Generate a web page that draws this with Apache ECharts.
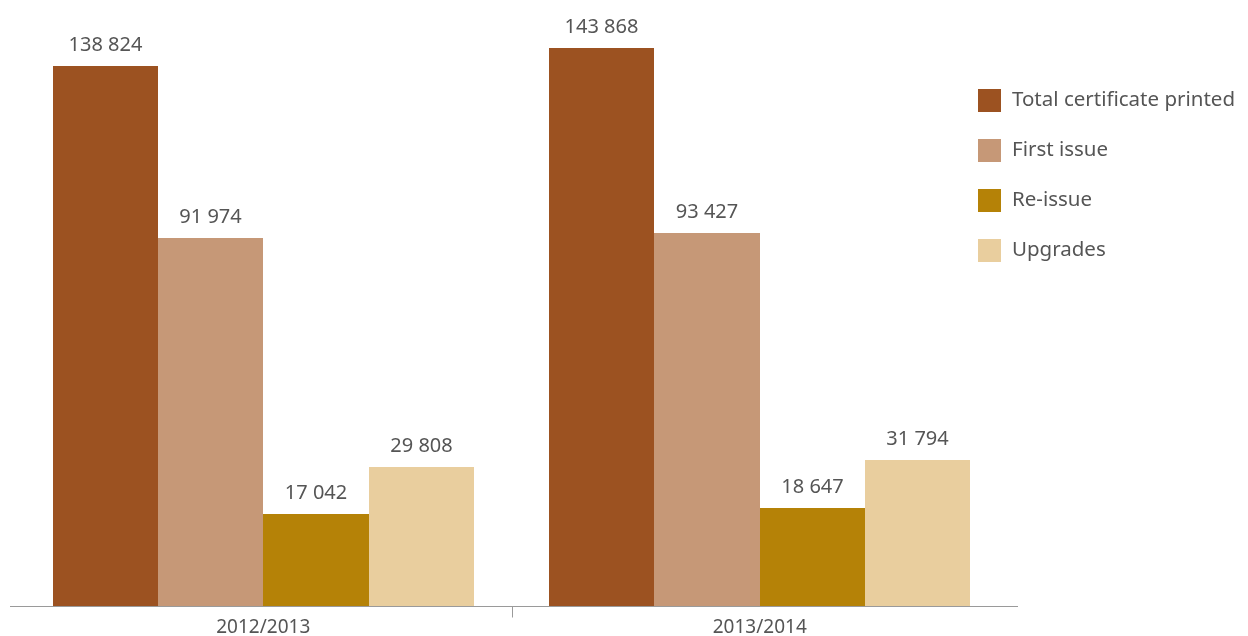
<!DOCTYPE html>
<html>
<head>
<meta charset="utf-8">
<script src="https://cdn.jsdelivr.net/npm/echarts@6/dist/echarts.min.js"></script>
<style>
  html, body { margin: 0; padding: 0; background: #fff; }
  #chart { width: 1248px; height: 636px; }
</style>
</head>
<body>
<div id="chart"></div>
<script>
// Certificates printed per financial year
const years = ['2012/2013', '2013/2014'];
const seriesNames = ['Total certificate printed', 'First issue', 'Re-issue', 'Upgrades'];
const totalPrinted = [138824, 143868];
const firstIssue = [91974, 93427];
const reIssue = [17042, 18647];
const upgrades = [29808, 31794];
const colors = ['#9C5221', '#C69877', '#B58207', '#E9CE9E'];

const FONT = '"Noto Sans", sans-serif';
const TEXT = '#555555';
const AXIS = '#9a9a9a';
// the value axis starts below zero; columns rise from the axis floor
const AXIS_MIN = -8000;
const AXIS_MAX = 150000;
const GROUP_SHARE = 1 - 0.152; // part of each category band taken by its four columns

function fmt(v) {
  return String(v).replace(/\B(?=(\d{3})+(?!\d))/g, ' ');
}

const values = [totalPrinted, firstIssue, reIssue, upgrades];
const nSeries = values.length;

function columnRenderer(i) {
  return function (params, api) {
    const cat = api.value(0);
    const val = api.value(1);
    const top = api.coord([cat, val]);
    const floor = api.coord([cat, AXIS_MIN]);
    const band = api.size([1, 0])[0];
    const groupW = band * GROUP_SHARE;
    const left = top[0] - groupW / 2;
    const xa = Math.round(left + groupW * i / nSeries);
    const xb = Math.round(left + groupW * (i + 1) / nSeries);
    const yTop = Math.round(top[1]);
    const yBot = Math.round(floor[1]);
    return {
      type: 'group',
      children: [
        { type: 'rect', shape: { x: xa, y: yTop, width: xb - xa, height: yBot - yTop },
          style: { fill: colors[i] } },
        { type: 'text', x: (xa + xb) / 2, y: yTop - 11,
          style: { text: fmt(val), fill: TEXT, font: '20px ' + FONT,
                   align: 'center', verticalAlign: 'bottom' } }
      ]
    };
  };
}

const chart = echarts.init(document.getElementById('chart'));
chart.setOption({
  animation: false,
  grid: { left: 15, right: 240, top: 25, bottom: 30, containLabel: false, outerBoundsMode: 'none' },
  legend: {
    orient: 'vertical',
    left: 973,
    top: 84,
    itemWidth: 23,
    itemHeight: 23,
    itemGap: 27,
    icon: 'rect',
    textStyle: { fontFamily: FONT, fontSize: 20.5, color: TEXT, padding: [0, 0, 0, 6] },
    data: seriesNames
  },
  xAxis: {
    type: 'category',
    data: years,
    axisLine: { show: false },
    axisTick: { show: false },
    axisLabel: { fontFamily: FONT, fontSize: 19, color: TEXT, margin: 12, interval: 0 }
  },
  yAxis: {
    type: 'value',
    min: AXIS_MIN,
    max: AXIS_MAX,
    show: false,
    splitLine: { show: false }
  },
  series: seriesNames.map((name, i) => ({
    name: name,
    type: 'custom',
    itemStyle: { color: colors[i] },
    encode: { x: 0, y: 1 },
    data: years.map((y, j) => [j, values[i][j]]),
    renderItem: columnRenderer(i)
  }))
});

// Baseline running slightly past the plot, with one tick dividing the two years
const base = chart.convertToPixel({ yAxisIndex: 0 }, AXIS_MIN);
const x0 = chart.convertToPixel({ xAxisIndex: 0 }, years[0]);
const x1 = chart.convertToPixel({ xAxisIndex: 0 }, years[1]);
const half = (x1 - x0) / 2;
const mid = Math.round((x0 + x1) / 2) + 0.5;
const y = Math.round(base) + 0.5;
chart.setOption({
  graphic: [
    { type: 'line', shape: { x1: x0 - half - 5, y1: y, x2: x1 + half + 10, y2: y },
      style: { stroke: AXIS, lineWidth: 1 }, z: 10 },
    { type: 'line', shape: { x1: mid, y1: y, x2: mid, y2: y + 11 },
      style: { stroke: AXIS, lineWidth: 1 }, z: 10 }
  ]
});
</script>
</body>
</html>
